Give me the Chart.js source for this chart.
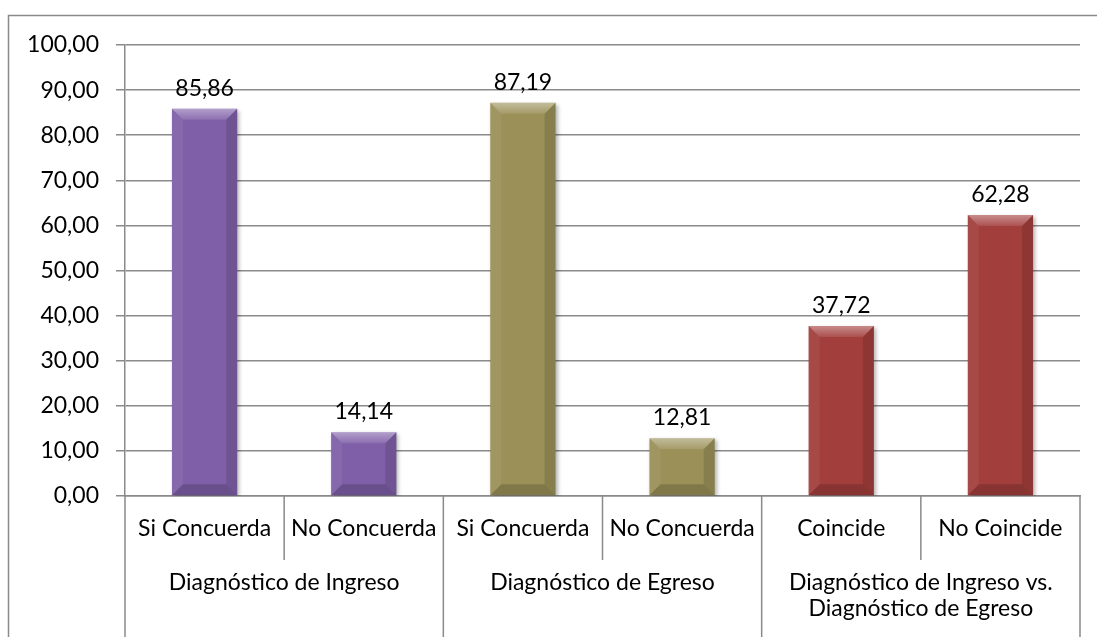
<!DOCTYPE html>
<html>
<head>
<meta charset="utf-8">
<script src="https://cdn.jsdelivr.net/npm/chart.js@4.4.0/dist/chart.umd.min.js"></script>
<style>
  html, body { margin: 0; padding: 0; background: #fff; }
  canvas { display: block; }
</style>
</head>
<body>
<canvas id="mycanvas" width="1097" height="637"></canvas>
<script>
// data
var categories = ['Si Concuerda', 'No Concuerda', 'Si Concuerda', 'No Concuerda', 'Coincide', 'No Coincide'];
var groups = [['Diagnóstico de Ingreso'], ['Diagnóstico de Egreso'], ['Diagnóstico de Ingreso vs.', 'Diagnóstico de Egreso']];
var groupSizes = [2, 2, 2];
var values = [85.86, 14.14, 87.19, 12.81, 37.72, 62.28];
var yMin = 0, yMax = 100, yStep = 10;

var barColors = ['#7f5fa8', '#7f5fa8', '#9a9058', '#9a9058', '#a23e3c', '#a23e3c'];
var lineColor = '#8a8a8a';
var font = 'Lato, "Open Sans", sans-serif';
var fontSize = 23;

function fmt(v) {
	return v.toFixed(2).replace('.', ',');
}

var frame = {
	id: 'frame',
	beforeDraw: function(chart) {
		var ctx = chart.ctx;
		ctx.save();
		ctx.fillStyle = '#fff';
		ctx.fillRect(0, 0, chart.width, chart.height);
		ctx.strokeStyle = lineColor;
		ctx.lineWidth = 1.5;
		ctx.beginPath();
		ctx.moveTo(8.5, chart.height);
		ctx.lineTo(8.5, 15.5);
		ctx.lineTo(chart.width, 15.5);
		ctx.stroke();
		ctx.restore();
	},
	beforeDatasetsDraw: function(chart) {
		var ctx = chart.ctx;
		ctx.save();
		ctx.shadowColor = 'rgba(0,0,0,0.3)';
		ctx.shadowBlur = 4;
		ctx.shadowOffsetX = 2;
		ctx.shadowOffsetY = 2;
	},
	afterDatasetsDraw: function(chart) {
		var ctx = chart.ctx;
		ctx.restore();
		var meta = chart.getDatasetMeta(0);
		ctx.save();
		meta.data.forEach(function(bar, i) {
			var p = bar.getProps(['x', 'y', 'base', 'width'], true);
			var l = p.x - p.width / 2, r = p.x + p.width / 2, t = p.y, b = p.base;
			var bv = Math.min(11, (b - t) / 2);
			// top
			var g = ctx.createLinearGradient(0, t, 0, t + bv);
			g.addColorStop(0, 'rgba(255,255,255,0.4)');
			g.addColorStop(1, 'rgba(255,255,255,0.1)');
			ctx.fillStyle = g;
			ctx.beginPath();
			ctx.moveTo(l, t); ctx.lineTo(r, t); ctx.lineTo(r - bv, t + bv); ctx.lineTo(l + bv, t + bv); ctx.closePath();
			ctx.fill();
			// left
			ctx.fillStyle = 'rgba(255,255,255,0.06)';
			ctx.beginPath();
			ctx.moveTo(l, t); ctx.lineTo(l + bv, t + bv); ctx.lineTo(l + bv, b - bv); ctx.lineTo(l, b); ctx.closePath();
			ctx.fill();
			// right
			ctx.fillStyle = 'rgba(0,0,0,0.12)';
			ctx.beginPath();
			ctx.moveTo(r, t); ctx.lineTo(r - bv, t + bv); ctx.lineTo(r - bv, b - bv); ctx.lineTo(r, b); ctx.closePath();
			ctx.fill();
			// bottom
			ctx.fillStyle = 'rgba(0,0,0,0.16)';
			ctx.beginPath();
			ctx.moveTo(l, b); ctx.lineTo(l + bv, b - bv); ctx.lineTo(r - bv, b - bv); ctx.lineTo(r, b); ctx.closePath();
			ctx.fill();

			// value label
			ctx.fillStyle = '#000';
			ctx.font = fontSize + 'px ' + font;
			ctx.textAlign = 'center';
			ctx.textBaseline = 'alphabetic';
			ctx.fillText(fmt(values[i]), p.x, t - 13);
		});
		ctx.restore();
	},
	afterDraw: function(chart) {
		var ctx = chart.ctx;
		var x = chart.scales.x;
		var area = chart.chartArea;
		var half = (x.getPixelForValue(1) - x.getPixelForValue(0)) / 2;
		ctx.save();
		ctx.strokeStyle = lineColor;
		ctx.lineWidth = 1.5;
		ctx.fillStyle = '#000';
		ctx.font = fontSize + 'px ' + font;
		ctx.textAlign = 'center';
		ctx.textBaseline = 'middle';
		// sub category labels
		categories.forEach(function(c, i) {
			ctx.fillText(c, x.getPixelForValue(i), area.bottom + 33);
		});
		// separators and group labels
		var idx = 0;
		ctx.beginPath();
		ctx.moveTo(area.left, area.bottom);
		ctx.lineTo(area.left, chart.height);
		ctx.stroke();
		groups.forEach(function(g, gi) {
			var first = idx, last = idx + groupSizes[gi] - 1;
			for (var k = first; k < last; k++) {
				var sx = x.getPixelForValue(k) + half;
				ctx.beginPath();
				ctx.moveTo(sx, area.bottom);
				ctx.lineTo(sx, area.bottom + 64);
				ctx.stroke();
			}
			var ex = x.getPixelForValue(last) + half;
			ctx.beginPath();
			ctx.moveTo(ex, area.bottom);
			ctx.lineTo(ex, chart.height);
			ctx.stroke();
			var cx = (x.getPixelForValue(first) + x.getPixelForValue(last)) / 2;
			var y0 = area.bottom + 87;
			g.forEach(function(line, li) {
				ctx.fillText(line, cx, y0 + li * 26);
			});
			idx = last + 1;
		});
		ctx.restore();
	}
};

var chartdata = {
	labels: categories,
	datasets: [{
		label: 'Valor',
		data: values,
		backgroundColor: barColors,
		borderWidth: 0,
		categoryPercentage: 1,
		barPercentage: 0.41
	}]
};

var ctx = document.getElementById('mycanvas');
var barGraph = new Chart(ctx, {
	type: 'bar',
	data: chartdata,
	plugins: [frame],
	options: {
		responsive: false,
		animation: false,
		devicePixelRatio: 1,
		layout: { padding: { top: 45, right: 17, left: 0, bottom: 0 } },
		plugins: {
			legend: { display: false },
			tooltip: { enabled: false }
		},
		scales: {
			x: {
				grid: { display: false },
				border: { display: true, color: lineColor, width: 1.5 },
				ticks: { display: false },
				afterFit: function(s) { s.height = 141; }
			},
			y: {
				min: yMin,
				max: yMax,
				ticks: {
					stepSize: yStep,
					padding: 17,
					color: '#000',
					font: { family: font, size: fontSize },
					callback: function(v) { return fmt(v); }
				},
				grid: { color: lineColor, lineWidth: 1.5, tickLength: 9 },
				border: { display: true, color: lineColor, width: 1.5 },
				afterFit: function(s) { s.width = 125; }
			}
		}
	}
});
</script>
</body>
</html>
